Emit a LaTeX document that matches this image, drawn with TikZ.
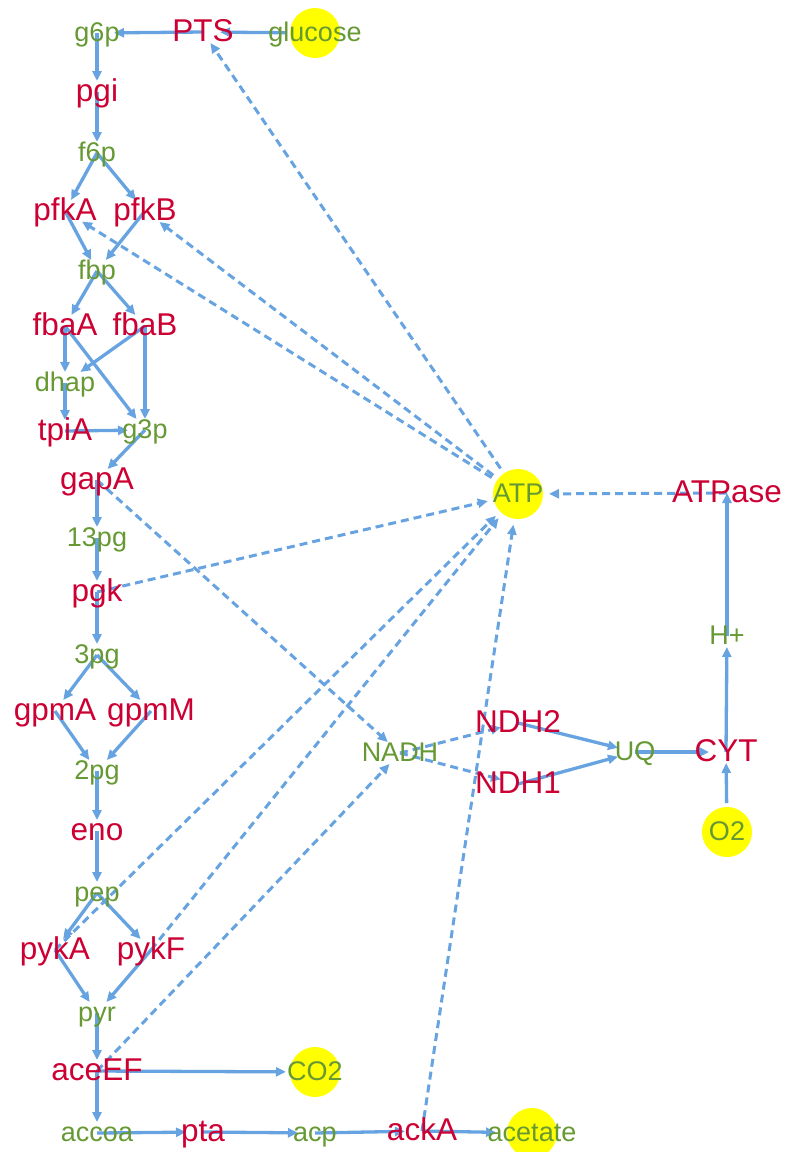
\documentclass[tikz,border=0pt]{standalone}
\usepackage{fontspec}
\setmainfont{Liberation Sans}
\usetikzlibrary{arrows.meta,backgrounds}
\definecolor{edgeblue}{RGB}{102,163,224}
\definecolor{enzred}{RGB}{204,0,51}
\definecolor{metgreen}{RGB}{102,153,51}
\definecolor{poolyellow}{RGB}{255,255,0}
\begin{document}
\begin{tikzpicture}[x=1bp,y=-1bp,
  hub/.style={rectangle,minimum width=34bp,minimum height=22bp,inner sep=0pt,outer sep=0pt},
  pool/.style={circle,fill=poolyellow,minimum size=50bp,inner sep=0pt,outer sep=4bp},
  enz/.style={text=enzred,font=\fontsize{31.5bp}{36bp}\selectfont,inner sep=0pt,
    text height=24.5bp,text depth=6bp},
  met/.style={text=metgreen,font=\fontsize{27bp}{32bp}\selectfont,inner sep=0pt,
    text height=22.8bp,text depth=5.5bp},
  flux/.style={draw=edgeblue,line width=3.3bp,-{Triangle[length=10bp,width=9bp]}},
  ctrl/.style={flux,line width=3bp,dash pattern=on 8bp off 5bp},
]
\useasboundingbox (0,0) rectangle (786,1152);

% external pools
\node[pool,label={[met]center:glucose}] (glucose) at (315,33) {};
\node[pool,outer sep=6bp,label={[met]center:ATP}] (ATP) at (518,494) {};
\node[pool,label={[met]center:O2}] (O2) at (727,832) {};
\node[pool,label={[met]center:CO2}] (CO2) at (315,1072) {};
\node[pool,outer sep=11bp,label={[met]center:acetate}] (acetate) at (532,1133) {};

% metabolites
\node[hub,label={[met]center:g6p}] (g6p) at (97,33) {};
\node[hub,label={[met]center:f6p}] (f6p) at (97,153) {};
\node[hub,label={[met]center:fbp}] (fbp) at (97,271) {};
\node[hub,label={[met]center:dhap}] (dhap) at (65,383) {};
\node[hub,label={[met]center:g3p}] (g3p) at (145,430) {};
\node[hub,label={[met]center:13pg}] (13pg) at (97,538) {};
\node[hub,label={[met]center:3pg}] (3pg) at (97,655) {};
\node[hub,label={[met]center:2pg}] (2pg) at (97,771) {};
\node[hub,label={[met]center:pep}] (pep) at (97,893) {};
\node[hub,label={[met]center:pyr}] (pyr) at (97,1013) {};
\node[hub,label={[met]center:accoa}] (accoa) at (97,1133) {};
\node[hub,label={[met]center:acp}] (acp) at (315,1133) {};
\node[hub,label={[met]center:NADH}] (NADH) at (400,753) {};
\node[hub,label={[met]center:UQ}] (UQ) at (635,752) {};
\node[hub,label={[met]center:H+}] (Hp) at (727,636) {};

% enzymes
\node[hub,label={[enz]center:PTS}] (PTS) at (203,32) {};
\node[hub,label={[enz]center:pgi}] (pgi) at (97,92) {};
\node[hub,label={[enz]center:pfkA}] (pfkA) at (65,211) {};
\node[hub,label={[enz]center:pfkB}] (pfkB) at (145,211) {};
\node[hub,label={[enz]center:fbaA}] (fbaA) at (65,326) {};
\node[hub,label={[enz]center:fbaB}] (fbaB) at (145,326) {};
\node[hub,label={[enz]center:tpiA}] (tpiA) at (65,431) {};
\node[hub,label={[enz]center:gapA}] (gapA) at (97,480) {};
\node[hub,label={[enz]center:pgk}] (pgk) at (97,592) {};
\node[hub,label={[enz]center:gpmA}] (gpmA) at (55,711) {};
\node[hub,label={[enz]center:gpmM}] (gpmM) at (151,711) {};
\node[hub,label={[enz]center:eno}] (eno) at (97,831) {};
\node[hub,label={[enz]center:pykA}] (pykA) at (55,950) {};
\node[hub,label={[enz]center:pykF}] (pykF) at (151,950) {};
\node[hub,label={[enz]center:aceEF}] (aceEF) at (97,1071) {};
\node[hub,label={[enz]center:pta}] (pta) at (203,1132) {};
\node[hub,label={[enz]center:ackA}] (ackA) at (422,1131) {};
\node[hub,label={[enz]center:NDH2}] (NDH2) at (518,723) {};
\node[hub,label={[enz]center:NDH1}] (NDH1) at (518,784) {};
\node[hub,label={[enz]center:CYT}] (CYT) at (726,752) {};
\node[hub,label={[enz]center:ATPase}] (ATPase) at (727,493) {};

\begin{pgfonlayer}{background}
% mass flow
\draw[flux] (glucose) -- (PTS);
\draw[flux] (PTS.center) -- (g6p);
\draw[flux] (g6p.center) -- (pgi);
\draw[flux] (pgi.center) -- (f6p);
\draw[flux] (f6p.center) -- (pfkA);
\draw[flux] (f6p.center) -- (pfkB);
\draw[flux] (pfkA.center) -- (fbp);
\draw[flux] (pfkB.center) -- (fbp);
\draw[flux] (fbp.center) -- (fbaA);
\draw[flux] (fbp.center) -- (fbaB);
\draw[flux] (fbaA.center) -- (dhap);
\draw[flux] (fbaA.center) -- (g3p);
\draw[flux] (fbaB.center) -- (dhap);
\draw[flux] (fbaB.center) -- (g3p);
\draw[flux] (dhap.center) -- (tpiA);
\draw[flux] (tpiA.center) -- (g3p);
\draw[flux] (g3p.center) -- (gapA);
\draw[flux] (gapA.center) -- (13pg);
\draw[flux] (13pg.center) -- (pgk);
\draw[flux] (pgk.center) -- (3pg);
\draw[flux] (3pg.center) -- (gpmA);
\draw[flux] (3pg.center) -- (gpmM);
\draw[flux] (gpmA.center) -- (2pg);
\draw[flux] (gpmM.center) -- (2pg);
\draw[flux] (2pg.center) -- (eno);
\draw[flux] (eno.center) -- (pep);
\draw[flux] (pep.center) -- (pykA);
\draw[flux] (pep.center) -- (pykF);
\draw[flux] (pykA.center) -- (pyr);
\draw[flux] (pykF.center) -- (pyr);
\draw[flux] (pyr.center) -- (aceEF);
\draw[flux] (aceEF.center) -- (CO2);
\draw[flux] (aceEF.center) -- (accoa);
\draw[flux] (accoa.center) -- (pta);
\draw[flux] (pta.center) -- (acp);
\draw[flux] (acp.center) -- (ackA);
\draw[flux] (ackA.center) -- (acetate);
\draw[flux] (NDH2.center) -- (UQ);
\draw[flux] (NDH1.center) -- (UQ);
\draw[flux] (UQ.center) -- (CYT);
\draw[flux] (O2) -- (CYT);
\draw[flux] (CYT.center) -- (Hp);
\draw[flux] (Hp.center) -- (ATPase.center);
% cofactor coupling
\draw[ctrl] (ATP) -- (PTS);
\draw[ctrl] (ATP) -- (pfkA);
\draw[ctrl] (ATP) -- (pfkB);
\draw[ctrl] (pgk.center) -- (ATP);
\draw[ctrl] (pykA.center) -- (ATP);
\draw[ctrl] (pykF.center) -- (ATP);
\draw[ctrl] (ackA.center) -- (ATP);
\draw[ctrl] (ATPase.center) -- (ATP);
\draw[ctrl] (gapA.center) -- (NADH);
\draw[ctrl] (aceEF.center) -- (NADH);
\draw[ctrl] (NADH.center) -- (NDH2);
\draw[ctrl] (NADH.center) -- (NDH1);
\end{pgfonlayer}
\end{tikzpicture}
\end{document}
